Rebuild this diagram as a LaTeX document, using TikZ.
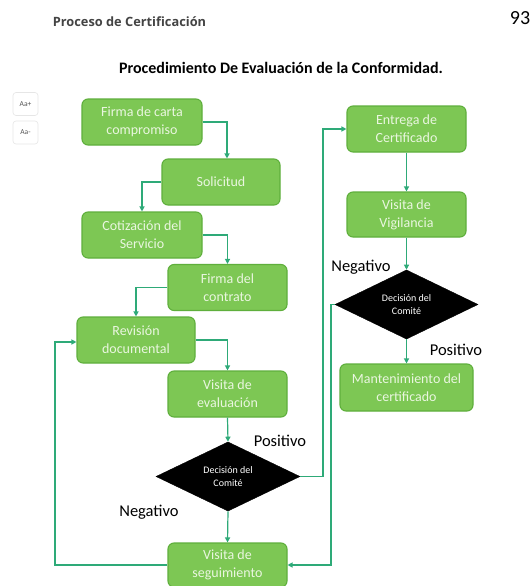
\documentclass[tikz,border=0pt]{standalone}
\usepackage{fontspec}
\setmainfont{Carlito}
\newfontfamily\hdrfont{Open Sans}
\usetikzlibrary{arrows.meta,shapes.geometric,calc}
\definecolor{boxfill}{HTML}{7DC754}
\definecolor{boxline}{HTML}{5FAF3C}
\definecolor{boxtext}{HTML}{EAF6E0}
\definecolor{conn}{HTML}{2EAA78}
\definecolor{hdr}{HTML}{444444}
\definecolor{btnline}{HTML}{E6E6E6}
\definecolor{btntext}{HTML}{555555}
\tikzset{
  procbox/.style={draw=boxline, line width=1.1pt, fill=boxfill, rounded corners=6pt,
    minimum width=119pt, minimum height=46pt, inner sep=2pt, align=center,
    text=boxtext, font=\fontsize{14}{18}\selectfont},
  decbox/.style={diamond, fill=black, draw=black, minimum width=144pt, minimum height=65pt,
    inner sep=0pt, align=center, text=white, font=\fontsize{10}{13}\selectfont},
  lbl/.style={font=\fontsize{16.5}{19}\selectfont, text=black, inner sep=0pt},
  conn/.style={draw=conn, line width=1.2pt, -{Triangle[width=5pt,length=5pt]}},
  btn/.style={draw=btnline, line width=0.6pt, rounded corners=3pt, fill=white,
    minimum width=25pt, minimum height=23pt, inner sep=0pt, text=btntext,
    font=\fontsize{7.5}{9}\selectfont}
}
\begin{document}
\begin{tikzpicture}[x=1pt,y=-1pt]
\useasboundingbox (0,0) rectangle (531,586);
\fill[white] (0,0) rectangle (531,586);
% header
\node[text=hdr, font=\hdrfont\bfseries\fontsize{12.8}{15}\selectfont, inner sep=0pt] (hdr) at (129.5,22) {Proceso de Certificación};
\node[font=\fontsize{20}{22}\selectfont, inner sep=0pt] (pg) at (520,18) {93};
\node[font=\bfseries\fontsize{16}{19}\selectfont, inner sep=0pt] (title) at (281,68) {Procedimiento De Evaluación de la Conformidad.};
% buttons
\node[btn] (bplus) at (25.5,104) {Aa+};
\node[btn] (bminus) at (25.5,132.5) {Aa-};
% left column
\node[procbox, minimum width=120pt] (n1) at (142,122) {Firma de carta\\compromiso};
\node[procbox, minimum width=118pt] (n2) at (221,182) {Solicitud};
\node[procbox, minimum width=120pt] (n3) at (142,235) {Cotización del\\Servicio};
\node[procbox] (n4) at (227.5,287.5) {Firma del\\contrato};
\node[procbox, minimum width=118pt] (n5) at (136,340) {Revisión\\documental};
\node[procbox] (n6) at (227.5,394) {Visita de\\evaluación};
\node[decbox] (d1) at (228,476.5) {Decisión del\\Comité};
\node[procbox, minimum height=44pt] (n7) at (227.5,565) {Visita de\\seguimiento};
% right column
\node[procbox] (n8) at (406.5,129) {Entrega de\\Certificado};
\node[procbox, minimum height=45pt] (n9) at (406.5,214.5) {Visita de\\Vigilancia};
\node[decbox, minimum width=143pt] (d2) at (406.5,304.5) {Decisión del\\Comité};
\node[procbox, minimum width=133pt, minimum height=47pt] (n10) at (406.5,387.5) {Mantenimiento del\\certificado};
% labels
\node[lbl] (lp1) at (280,441) {Positivo};
\node[lbl] (ln1) at (149,512) {Negativo};
\node[lbl] (ln2) at (361,267) {Negativo};
\node[lbl] (lp2) at (456,350) {Positivo};
% helper coordinates
\coordinate (cL) at (55,0);
\coordinate (cR1) at (323,0);
\coordinate (cR2) at (331,0);
% connectors
\draw[conn] (n1.east) -| ([xshift=6pt]n2.north);
\draw[conn] (n2.west) -| (n3.north);
\draw[conn] (n3.east) -| (n4.north);
\draw[conn] (n4.west) -| (n5.north);
\draw[conn] (n5.east) -| (n6.north);
\draw[conn] (n6.south) -- (d1.north);
\draw[conn] (d1.south) -- (n7.north);
\draw[conn] (n7.west) -- (n7.west -| cL) |- ([yshift=-2pt]n5.west);
\draw[conn] (d1.east) -- (d1.east -| cR1) |- (n8.west);
\draw[conn] (n8.south) -- (n9.north);
\draw[conn] (n9.south) -- (d2.north);
\draw[conn] (d2.south) -- (n10.north);
\draw[conn] (d2.west) -- (d2.west -| cR2) |- (n7.east);
\end{tikzpicture}
\end{document}
